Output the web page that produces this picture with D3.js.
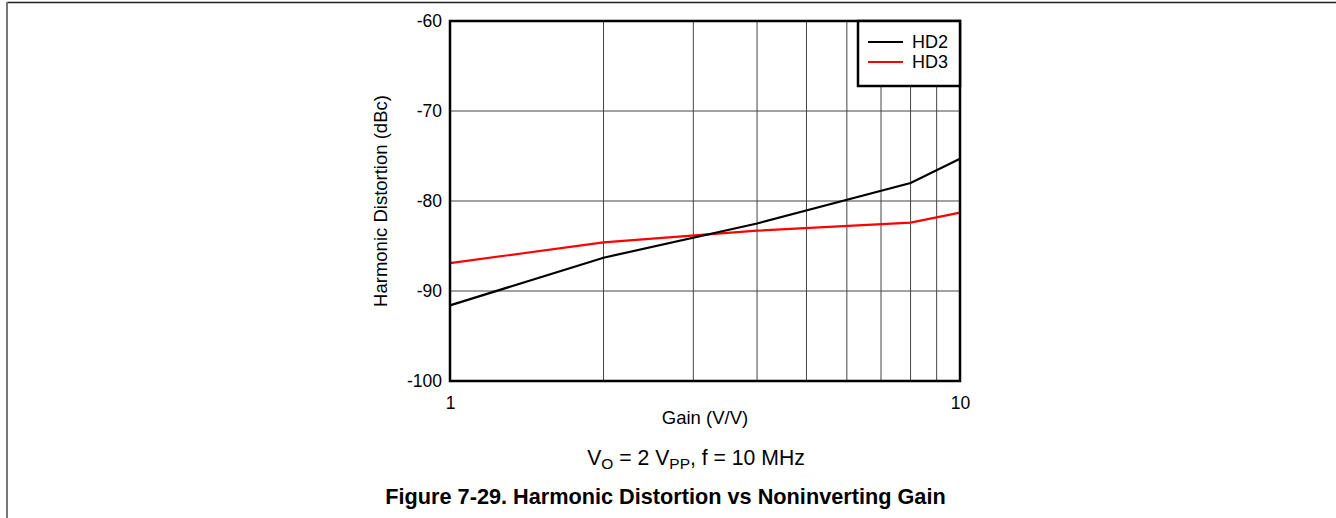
<!DOCTYPE html>
<html>
<head>
<meta charset="utf-8">
<script src="https://cdn.jsdelivr.net/npm/d3@7"></script>
<style>
  html, body { margin: 0; padding: 0; background: #fff; }
  svg { display: block; font-family: Arial, "Liberation Sans", sans-serif; }
</style>
</head>
<body>
<svg id="chart" width="1336" height="518"></svg>
<script>
// ---- data ----
const gainHD2 = [1, 2, 4, 8, 10];
const valuesHD2 = [-91.6, -86.3, -82.5, -78.0, -75.3];
const gainHD3 = [1, 2, 4, 8, 10];
const valuesHD3 = [-86.9, -84.6, -83.3, -82.4, -81.3];
const seriesNames = ["HD2", "HD3"];
const seriesColors = ["#000000", "#ff0000"];
const xTickLabels = [1, 10];
const yTickValues = [-100, -90, -80, -70, -60];
const xGridValues = [2, 3, 4, 5, 6, 7, 8, 9];

const svg = d3.select("#chart");
const L = 450, R = 960, T = 21, B = 381;
const FONT = "Arial, 'Liberation Sans', sans-serif";

const x = d3.scaleLog().domain([1, 10]).range([L, R]);
const y = d3.scaleLinear().domain([-100, -60]).range([B, T]);

// page frame
svg.append("line").attr("x1", 7).attr("x2", 1336).attr("y1", 2.5).attr("y2", 2.5)
  .attr("stroke", "#222").attr("stroke-width", 1.5);
svg.append("line").attr("x1", 7).attr("x2", 7).attr("y1", 2).attr("y2", 518)
  .attr("stroke", "#777").attr("stroke-width", 2);

// grid
const grid = svg.append("g");
grid.selectAll("line.v").data(xGridValues).enter().append("line")
  .attr("x1", d => x(d)).attr("x2", d => x(d)).attr("y1", T).attr("y2", B)
  .attr("stroke", "#444").attr("stroke-width", 1);
grid.selectAll("line.h").data(yTickValues.slice(1, -1)).enter().append("line")
  .attr("x1", L).attr("x2", R).attr("y1", d => y(d)).attr("y2", d => y(d))
  .attr("stroke", "#444").attr("stroke-width", 1);

// axes (labels only)
const yAxis = svg.append("g").attr("transform", `translate(${L},0)`)
  .call(d3.axisLeft(y).tickValues(yTickValues).tickSize(0).tickPadding(8).tickFormat(d => String(d)));
yAxis.select(".domain").remove();
yAxis.selectAll("text").attr("font-size", 17.5).attr("fill", "#000").attr("font-family", FONT);

const xAxis = svg.append("g").attr("transform", `translate(0,${B})`)
  .call(d3.axisBottom(x).tickValues(xTickLabels).tickSize(0).tickPadding(16).tickFormat(d => String(d)));
xAxis.select(".domain").remove();
xAxis.selectAll("text").attr("font-size", 17.5).attr("fill", "#000").attr("font-family", FONT);

// lines
const line = d3.line().x(d => x(d[0])).y(d => y(d[1]));
const s1 = gainHD2.map((g, i) => [g, valuesHD2[i]]);
const s2 = gainHD3.map((g, i) => [g, valuesHD3[i]]);
const plot = svg.append("g");
plot.append("path").datum(s2).attr("d", line).attr("fill", "none")
  .attr("stroke", seriesColors[1]).attr("stroke-width", 2.2);
plot.append("path").datum(s1).attr("d", line).attr("fill", "none")
  .attr("stroke", seriesColors[0]).attr("stroke-width", 2.2);

// plot frame
svg.append("rect").attr("x", L).attr("y", T).attr("width", R - L).attr("height", B - T)
  .attr("fill", "none").attr("stroke", "#000").attr("stroke-width", 2.5);

// legend
const lg = svg.append("g");
lg.append("rect").attr("x", 858).attr("y", T).attr("width", R - 858).attr("height", 65)
  .attr("fill", "#fff").attr("stroke", "#000").attr("stroke-width", 2.5);
seriesNames.forEach((n, i) => {
  const yy = 42 + i * 20;
  lg.append("line").attr("x1", 868).attr("x2", 903).attr("y1", yy).attr("y2", yy)
    .attr("stroke", seriesColors[i]).attr("stroke-width", 2);
  lg.append("text").attr("x", 912).attr("y", yy).attr("dy", "0.36em")
    .attr("font-size", 18).text(n);
});

// axis titles
svg.append("text").attr("transform", `translate(387,${(T + B) / 2}) rotate(-90)`)
  .attr("text-anchor", "middle").attr("font-size", 18.5).text("Harmonic Distortion (dBc)");
svg.append("text").attr("x", 705).attr("y", 424).attr("text-anchor", "middle")
  .attr("font-size", 18.5).text("Gain (V/V)");

// condition line
const cond = svg.append("text").attr("x", 696).attr("y", 465).attr("text-anchor", "middle")
  .attr("font-size", 21.2);
cond.append("tspan").text("V");
cond.append("tspan").attr("font-size", 15.5).attr("dy", 4).text("O");
cond.append("tspan").attr("dy", -4).text(" = 2 V");
cond.append("tspan").attr("font-size", 15.5).attr("dy", 4).text("PP");
cond.append("tspan").attr("dy", -4).text(", f = 10 MHz");

// caption
svg.append("text").attr("x", 665.5).attr("y", 504).attr("text-anchor", "middle")
  .attr("font-size", 21.7).attr("font-weight", "bold")
  .text("Figure 7-29. Harmonic Distortion vs Noninverting Gain");
</script>
</body>
</html>
